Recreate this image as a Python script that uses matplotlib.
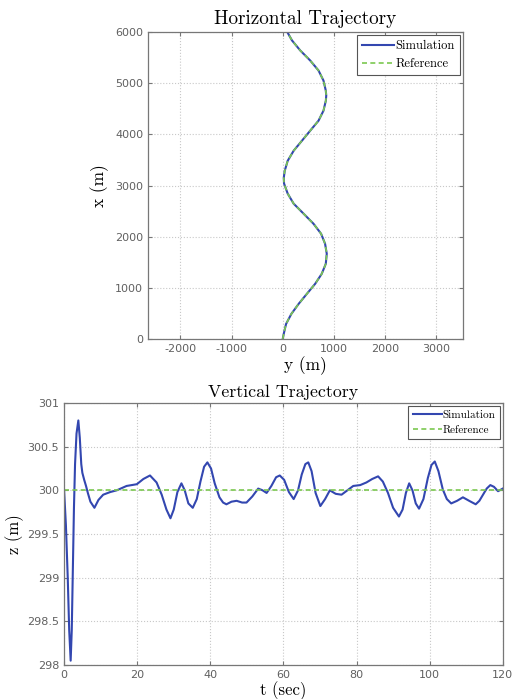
#!/usr/bin/env python3

import matplotlib
matplotlib.use("Agg")
import matplotlib.pyplot as plt

plt.rcParams["axes.unicode_minus"] = False

# horizontal trajectory: north position x (m) and east position y (m)
hor_x = [0, 98, 294, 490, 686, 883, 1079, 1275, 1471, 1667, 1863, 2059,
         2255, 2451, 2647, 2843, 3040, 3150, 3289, 3485, 3681, 3877, 4073,
         4269, 4465, 4661, 4760, 4857, 5053, 5250, 5446, 5642, 5838, 6000]
hor_y_sim = [0, 19, 65, 168, 310, 471, 633, 762, 841, 860, 827, 749,
             600, 407, 213, 97, 26, 20, 39, 97, 213, 375, 536,
             699, 796, 842, 850, 841, 796, 699, 536, 342, 181, 90]
hor_y_ref = list(hor_y_sim)

# vertical trajectory: time (s) and altitude z (m)
ver_t = [0, 0.5, 1.0, 1.4, 1.8, 2.1, 2.4, 2.7, 3.0, 3.4, 3.9, 4.3, 4.7, 5.0,
         5.5, 6.0, 6.5, 7.2, 8.3, 9.4, 10.7, 12.6, 14.4, 17.1, 19.9, 21.7,
         23.5, 25.3, 26.7, 28.0, 29.1, 30.0, 31.0, 32.1, 33.0, 34.0, 35.2,
         36.3, 37.3, 38.3, 39.2, 40.2, 41.2, 42.5, 43.5, 44.4, 45.8, 47.2,
         48.7, 49.9, 51.5, 53.1, 54.3, 55.4, 56.7, 58.0, 59.0, 60.2, 61.5,
         62.8, 64.0, 65.0, 66.0, 66.8, 67.7, 68.8, 70.1, 71.4, 72.7, 74.3,
         75.9, 77.5, 79.1, 81.0, 82.7, 84.3, 85.9, 87.2, 88.6, 90.0, 91.6,
         92.6, 93.5, 94.4, 95.3, 96.2, 97.1, 98.3, 99.5, 100.5, 101.4, 102.4,
         103.6, 104.7, 105.9, 107.5, 109.1, 110.8, 112.6, 113.6, 114.6, 115.6,
         116.6, 117.6, 118.7, 120.0]
ver_z_sim = [300.0, 299.6, 299.0, 298.4, 298.05, 298.4, 299.1, 299.8, 300.3,
             300.65, 300.8, 300.6, 300.3, 300.2, 300.12, 300.05, 299.97,
             299.87, 299.80, 299.89, 299.95, 299.98, 300.0, 300.05, 300.07,
             300.13, 300.17, 300.09, 299.95, 299.78, 299.68, 299.78, 299.98,
             300.08, 300.0, 299.85, 299.80, 299.9, 300.1, 300.27, 300.32,
             300.25, 300.08, 299.92, 299.86, 299.84, 299.87, 299.88, 299.86,
             299.86, 299.93, 300.02, 300.0, 299.97, 300.05, 300.15, 300.17,
             300.12, 299.98, 299.90, 300.0, 300.18, 300.3, 300.32, 300.22,
             299.97, 299.82, 299.9, 300.0, 299.96, 299.95, 300.0, 300.05,
             300.06, 300.09, 300.13, 300.16, 300.1, 299.97, 299.8, 299.70,
             299.78, 299.97, 300.08, 300.0, 299.85, 299.79, 299.9, 300.14,
             300.29, 300.33, 300.22, 300.01, 299.9, 299.85, 299.88, 299.92,
             299.88, 299.84, 299.88, 299.95, 300.02, 300.06, 300.04, 299.99,
             300.02]
ver_t_ref = [0, 120]
ver_z_ref = [300, 300]

BLUE = "#3347b0"
GREEN = "#7cc850"
SERIF = "cmr10"


def style(ax):
    ax.grid(True, linestyle=":", color="#c8c8c8", linewidth=0.8)
    ax.tick_params(direction="in", top=True, right=True, labelsize=8,
                   labelcolor="#606060", color="#777777", length=3)
    for s in ax.spines.values():
        s.set_color("#777777")
        s.set_linewidth(0.9)


def legend(ax, size):
    leg = ax.legend(loc="upper right", prop={"family": SERIF, "size": size},
                    handlelength=2.6, handletextpad=0.1, borderpad=0.4,
                    labelspacing=0.45, fancybox=False, framealpha=1,
                    borderaxespad=0.25)
    leg.get_frame().set_edgecolor("#555555")
    leg.get_frame().set_linewidth(0.8)


def main():
    fig = plt.figure(figsize=(5.21, 6.99), dpi=100)

    ax1 = fig.add_axes([0.284, 0.515, 0.605, 0.439])
    ax1.plot(hor_y_sim, hor_x, color=BLUE, lw=1.5, label="Simulation")
    ax1.plot(hor_y_ref, hor_x, color=GREEN, lw=1.2, ls=(0, (3, 2)),
             label="Reference")
    ax1.set_xlim(-2632, 3524)
    ax1.set_ylim(0, 6000)
    ax1.set_xticks(range(-2000, 3001, 1000))
    ax1.set_yticks(range(0, 6001, 1000))
    style(ax1)
    ax1.set_title("Horizontal Trajectory", family=SERIF, size=13.8, pad=6)
    ax1.set_xlabel("y (m)", family=SERIF, size=12.5, labelpad=2)
    ax1.set_ylabel("x (m)", family=SERIF, size=12.5, labelpad=4)
    legend(ax1, 9)

    ax2 = fig.add_axes([0.123, 0.0486, 0.842, 0.3749])
    ax2.plot(ver_t, ver_z_sim, color=BLUE, lw=1.5, label="Simulation")
    ax2.plot(ver_t_ref, ver_z_ref, color=GREEN, lw=1.2, ls=(0, (3, 2)),
             label="Reference")
    ax2.set_xlim(0, 120)
    ax2.set_ylim(298, 301)
    ax2.set_xticks(range(0, 121, 20))
    ax2.set_yticks([298, 298.5, 299, 299.5, 300, 300.5, 301])
    ax2.set_yticklabels(["298", "298.5", "299", "299.5", "300", "300.5", "301"])
    style(ax2)
    ax2.set_title("Vertical Trajectory", family=SERIF, size=12.8, pad=4)
    ax2.set_xlabel("t (sec)", family=SERIF, size=12, labelpad=1)
    ax2.set_ylabel("z (m)", family=SERIF, size=12, labelpad=2)
    legend(ax2, 8)

    fig.savefig("out.png", dpi=100)
    plt.close(fig)


if __name__ == "__main__":
    main()
